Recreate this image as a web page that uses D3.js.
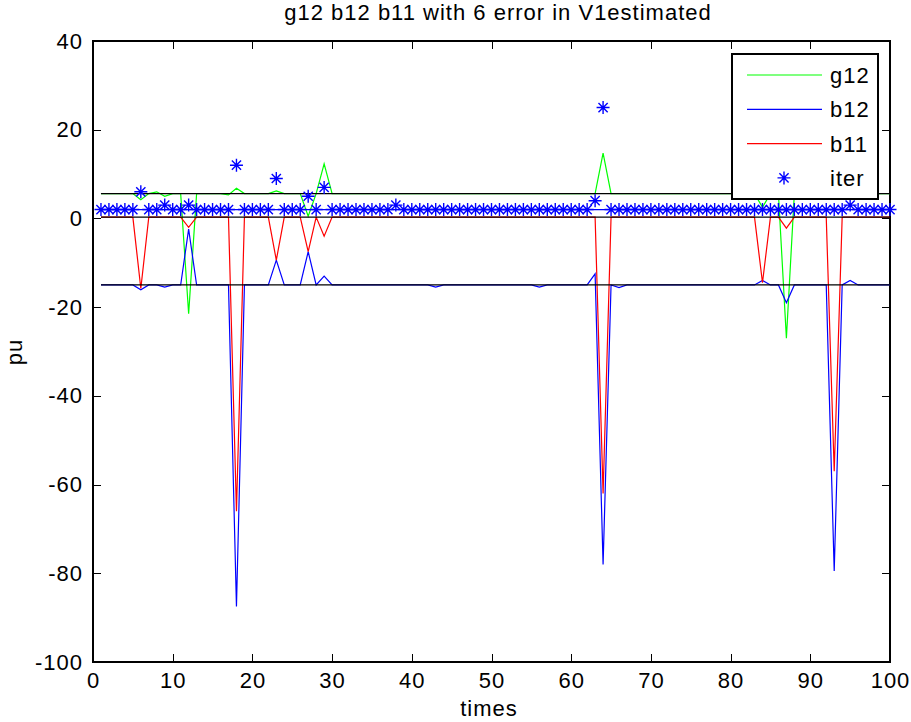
<!DOCTYPE html>
<html>
<head>
<meta charset="utf-8">
<script src="https://cdn.jsdelivr.net/npm/d3@7"></script>
<style>
  body { margin: 0; background: #fff; }
  text { font-family: "Liberation Sans", Arial, sans-serif; font-size: 22px; letter-spacing: 1px; fill: #000; }
</style>
</head>
<body>
<div id="chart"></div>
<script>
// data, times 1..100
const times = d3.range(1, 101);

// true values (black reference lines)
const g12True = 5.6;
const b11True = 0.3;
const b12True = -15.0;

// estimated series: baseline plus the spikes seen in the picture
const g12Base = 5.6;
const g12Spikes = [[6, 4.2], [8, 6.0], [9, 5.0], [12, -21.5], [17, 5.3], [18, 6.8], [23, 6.2],
                   [27, 0.5], [29, 12.3], [64, 14.7], [84, 2.5], [87, -27]];
const b12Base = -15.0;
const b12Spikes = [[6, -16.1], [9, -15.5], [12, -2.4], [18, -87.5], [23, -9.4], [27, -7.5],
                   [29, -13.0], [43, -15.5], [56, -15.5], [63, -12.5], [64, -78], [66, -15.6],
                   [84, -14], [87, -19], [93, -79.5], [95, -14]];
const b11Base = 0.3;
const b11Spikes = [[6, -15.8], [12, -2.0], [18, -66], [23, -9.4], [27, -7.5], [29, -4.0],
                   [64, -62], [84, -14.5], [87, -2.2], [93, -57]];
const iterBase = 2;
const iterSpikes = [[6, 6], [9, 3], [12, 3], [18, 12], [23, 9], [27, 5], [29, 7],
                    [38, 3], [63, 4], [64, 25], [95, 3]];

const xTicks = d3.range(0, 101, 10);
const yTicks = d3.range(-100, 41, 20);

function series(base, spikes) {
  const m = new Map(spikes);
  return times.map(t => [t, m.has(t) ? m.get(t) : base]);
}

const g12 = series(g12Base, g12Spikes);
const b12 = series(b12Base, b12Spikes);
const b11 = series(b11Base, b11Spikes);
const iter = series(iterBase, iterSpikes);

// layout
const W = 911, H = 722;
const plotL = 93, plotR = 890, plotT = 41, plotB = 662;

const svg = d3.select("#chart").append("svg")
  .attr("width", W).attr("height", H);

svg.append("rect").attr("width", W).attr("height", H).attr("fill", "#fff");

const x = d3.scaleLinear().domain([0, 100]).range([plotL, plotR]);
const y = d3.scaleLinear().domain([-100, 40]).range([plotB, plotT]);

const plain = d => String(d);   // plain hyphen for negatives, like the original

// axes, ticks pointing inward
svg.append("g").attr("transform", `translate(0,${plotB})`)
  .call(d3.axisBottom(x).tickValues(xTicks).tickFormat(plain).tickSize(-8).tickPadding(10).tickSizeOuter(0))
  .call(g => g.select(".domain").remove());
svg.append("g").attr("transform", `translate(0,${plotT})`)
  .call(d3.axisTop(x).tickValues(xTicks).tickSize(-8).tickFormat("").tickSizeOuter(0))
  .call(g => g.select(".domain").remove());
svg.append("g").attr("transform", `translate(${plotL},0)`)
  .call(d3.axisLeft(y).tickValues(yTicks).tickFormat(plain).tickSize(-8).tickPadding(10).tickSizeOuter(0))
  .call(g => g.select(".domain").remove());
svg.append("g").attr("transform", `translate(${plotR},0)`)
  .call(d3.axisRight(y).tickValues(yTicks).tickSize(-8).tickFormat("").tickSizeOuter(0))
  .call(g => g.select(".domain").remove());

svg.selectAll(".tick line").attr("stroke", "#000").attr("shape-rendering", "crispEdges");
svg.selectAll(".tick text")
  .style("font-family", '"Liberation Sans", Arial, sans-serif')
  .style("font-size", "22px")
  .style("letter-spacing", "1px");

svg.append("rect")
  .attr("x", plotL).attr("y", plotT)
  .attr("width", plotR - plotL).attr("height", plotB - plotT)
  .attr("fill", "none").attr("stroke", "#000").attr("stroke-width", 1.2)
  .attr("shape-rendering", "crispEdges");

// lines
const line = d3.line().x(d => x(d[0])).y(d => y(d[1]));

const plot = svg.append("g");
plot.append("path").datum(g12).attr("d", line)
  .attr("fill", "none").attr("stroke", "#00ff00").attr("stroke-width", 1.2);
plot.append("path").datum(b12).attr("d", line)
  .attr("fill", "none").attr("stroke", "#0000ff").attr("stroke-width", 1.2);
plot.append("path").datum(b11).attr("d", line)
  .attr("fill", "none").attr("stroke", "#ff0000").attr("stroke-width", 1.2);

// true values
[g12True, b11True, b12True].forEach(v => {
  plot.append("path").datum([[1, v], [100, v]]).attr("d", line)
    .attr("fill", "none").attr("stroke", "#000").attr("stroke-width", 1.2);
});

// iteration count line and stars
plot.append("path").datum([[1, iterBase], [100, iterBase]]).attr("d", line)
  .attr("fill", "none").attr("stroke", "#0000ff").attr("stroke-width", 1.2);

const star = "M-6.5,0H6.5M0,-6.5V6.5M-4.6,-4.6L4.6,4.6M-4.6,4.6L4.6,-4.6";
plot.selectAll(".star").data(iter).join("path")
  .attr("class", "star")
  .attr("transform", d => `translate(${x(d[0])},${y(d[1])})`)
  .attr("d", star)
  .attr("fill", "none").attr("stroke", "#0000ff").attr("stroke-width", 1.4);

// titles
svg.append("text").attr("x", 498).attr("y", 20).attr("text-anchor", "middle")
  .text("g12 b12 b11 with 6 error in V1estimated");
svg.append("text").attr("x", 489).attr("y", 716).attr("text-anchor", "middle")
  .text("times");
svg.append("text").attr("transform", "translate(22,352) rotate(-90)")
  .attr("text-anchor", "middle").text("pu");

// legend
const legendItems = [
  { name: "g12", color: "#00ff00", type: "line" },
  { name: "b12", color: "#0000ff", type: "line" },
  { name: "b11", color: "#ff0000", type: "line" },
  { name: "iter", color: "#0000ff", type: "star" }
];
const lg = svg.append("g");
lg.append("rect").attr("x", 732).attr("y", 54).attr("width", 146).attr("height", 145)
  .attr("fill", "#fff").attr("stroke", "#000").attr("stroke-width", 1.2)
  .attr("shape-rendering", "crispEdges");
legendItems.forEach((d, i) => {
  const yy = 75 + i * 34.3;
  if (d.type === "line") {
    lg.append("line").attr("x1", 747).attr("x2", 822).attr("y1", yy).attr("y2", yy)
      .attr("stroke", d.color).attr("stroke-width", 1.2);
  } else {
    lg.append("path").attr("transform", `translate(784,${yy})`).attr("d", star)
      .attr("fill", "none").attr("stroke", d.color).attr("stroke-width", 1.4);
  }
  lg.append("text").attr("x", 830).attr("y", yy + 8).text(d.name);
});
</script>
</body>
</html>
